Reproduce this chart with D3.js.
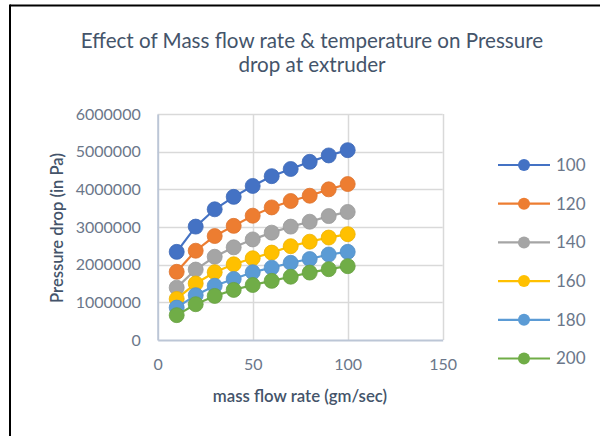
<!DOCTYPE html>
<html><head><meta charset="utf-8">
<script src="https://cdn.jsdelivr.net/npm/d3@7"></script>
<style>
html,body{margin:0;padding:0;background:#fff;}
svg{display:block;font-family:Lato, "Open Sans", sans-serif;}
</style></head>
<body>
<svg id="chart" width="600" height="436"></svg>
<script>
const massFlow = [10,20,30,40,50,60,70,80,90,100];
const seriesNames = ["100","120","140","160","180","200"];
const s100 = [2340000,3010000,3470000,3800000,4090000,4350000,4540000,4730000,4900000,5040000];
const s120 = [1810000,2370000,2760000,3030000,3300000,3520000,3690000,3830000,4000000,4140000];
const s140 = [1390000,1870000,2210000,2460000,2670000,2850000,3010000,3140000,3290000,3400000];
const s160 = [1090000,1500000,1800000,2010000,2170000,2320000,2490000,2610000,2720000,2810000];
const s180 = [860000,1190000,1440000,1620000,1800000,1920000,2050000,2150000,2270000,2340000];
const s200 = [660000,950000,1170000,1330000,1460000,1570000,1680000,1790000,1880000,1960000];
const seriesValues = [s100,s120,s140,s160,s180,s200];
const colors = ["#4472C4","#ED7D31","#A5A5A5","#FFC000","#5B9BD5","#70AD47"];
const xTicks = [0,50,100,150];
const yTicks = [0,1000000,2000000,3000000,4000000,5000000,6000000];
const titleLines = ["Effect of Mass flow rate & temperature on Pressure","drop at extruder"];
const xTitle = "mass flow rate (gm/sec)";
const yTitle = "Pressure drop (in Pa)";

const svg = d3.select("#chart");
const textDark = "#44546A", textTick = "#6B778A";

// outer frame (top and left edges visible)
svg.append("line").attr("x1",10).attr("x2",600).attr("y1",5.5).attr("y2",5.5).attr("stroke","#000").attr("stroke-width",2);
svg.append("line").attr("x1",10).attr("x2",10).attr("y1",4.5).attr("y2",436).attr("stroke","#000").attr("stroke-width",2);

const x = d3.scaleLinear().domain([0,150]).range([157.7,442.7]);
const y = d3.scaleLinear().domain([0,6000000]).range([340,114]);

// gridlines
const g = svg.append("g");
g.selectAll(".hg").data(yTicks.filter(d=>d>0)).enter().append("line")
  .attr("x1",x(0)).attr("x2",x(150)).attr("y1",d=>Math.round(y(d))+0.5).attr("y2",d=>Math.round(y(d))+0.5)
  .attr("stroke","#D9D9D9").attr("stroke-width",1.5);
g.selectAll(".vg").data(xTicks.filter(d=>d>0)).enter().append("line")
  .attr("x1",d=>Math.round(x(d))+0.5).attr("x2",d=>Math.round(x(d))+0.5).attr("y1",y(6000000)).attr("y2",y(0))
  .attr("stroke","#D9D9D9").attr("stroke-width",1.5);

// axes
const xAxis = d3.axisBottom(x).tickValues(xTicks).tickSize(0).tickPadding(19);
const yAxis = d3.axisLeft(y).tickValues(yTicks).tickSize(0).tickPadding(17).tickFormat(d3.format("d"));
const gx = svg.append("g").attr("transform",`translate(0,${y(0)})`).call(xAxis);
const gy = svg.append("g").attr("transform",`translate(${x(0)},0)`).call(yAxis);
[gx,gy].forEach(a=>{
  a.select(".domain").attr("stroke","#BCC6D6").attr("stroke-width",2);
  a.selectAll("text").attr("fill",textTick).style("font-size","16px").style("font-family","Lato, sans-serif");
});

// series
const line = d3.line().x((d,i)=>x(massFlow[i])).y(d=>y(d));
seriesValues.forEach((vals,k)=>{
  const sg = svg.append("g");
  sg.append("path").datum(vals).attr("d",line).attr("fill","none").attr("stroke",colors[k]).attr("stroke-width",2.2);
  sg.selectAll("circle").data(vals).enter().append("circle")
    .attr("cx",(d,i)=>x(massFlow[i])).attr("cy",d=>y(d)).attr("r",7.5)
    .attr("fill",colors[k]).attr("stroke",d3.color(colors[k]).darker(0.2)).attr("stroke-width",0.8);
});

// title
svg.append("text").attr("x",312).attr("y",48).attr("text-anchor","middle")
  .attr("fill",textDark).style("font-size","20.6px").text(titleLines[0]);
svg.append("text").attr("x",312).attr("y",72).attr("text-anchor","middle")
  .attr("fill",textDark).style("font-size","20.6px").text(titleLines[1]);

// axis titles
svg.append("text").attr("x",300).attr("y",402).attr("text-anchor","middle")
  .attr("fill",textDark).style("font-size","16.8px").style("font-weight","600").text(xTitle);
svg.append("text").attr("transform","translate(63,228) rotate(-90)").attr("text-anchor","middle")
  .attr("fill",textDark).style("font-size","16.6px").style("font-weight","600").text(yTitle);

// legend
const leg = svg.append("g");
seriesNames.forEach((n,k)=>{
  const ly = 165 + k*38.7;
  leg.append("line").attr("x1",498).attr("x2",550).attr("y1",ly).attr("y2",ly).attr("stroke",colors[k]).attr("stroke-width",2.2);
  leg.append("circle").attr("cx",524).attr("cy",ly).attr("r",6).attr("fill",colors[k]);
  leg.append("text").attr("x",556).attr("y",ly).attr("dy","0.35em").attr("fill",textTick)
    .style("font-size","17px").text(n);
});
</script>
</body></html>
